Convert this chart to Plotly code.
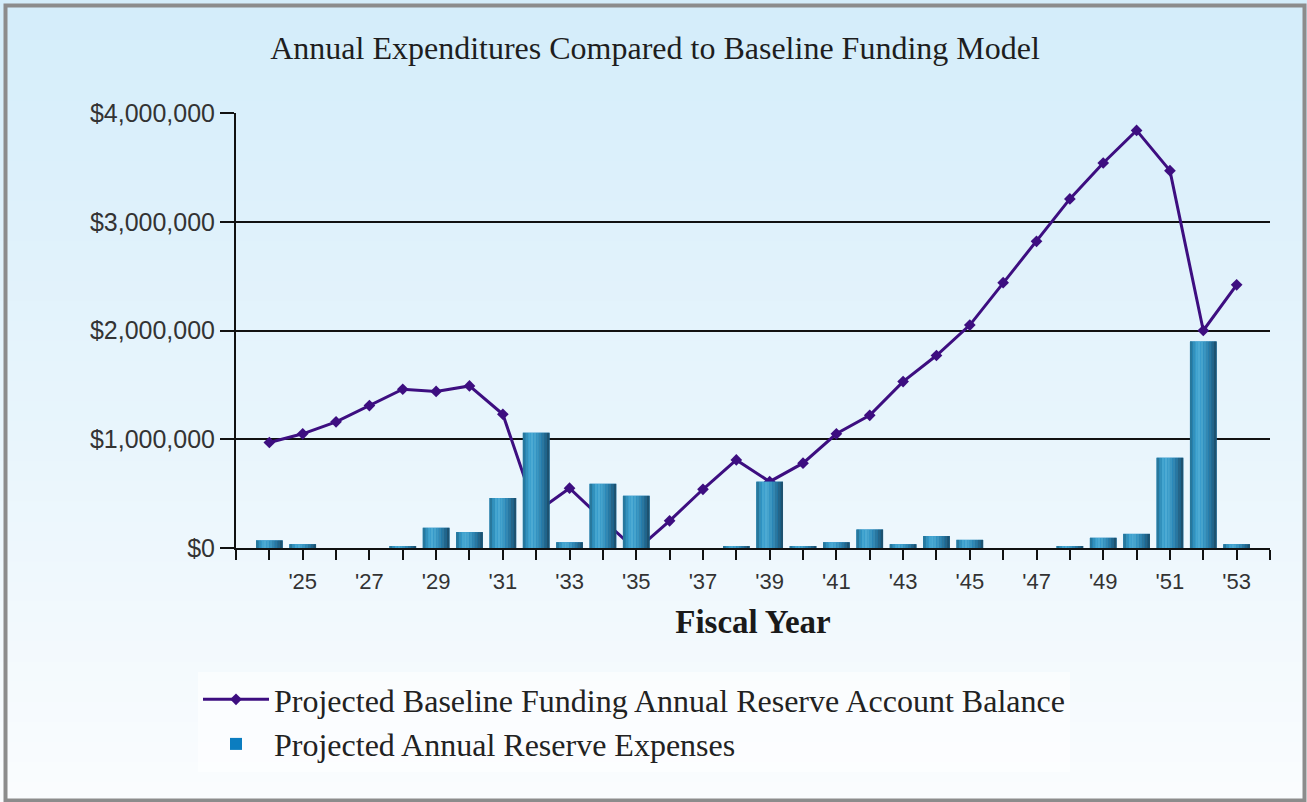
import plotly.graph_objects as go

# ---------------- data ----------------
years = [2024, 2025, 2026, 2027, 2028, 2029, 2030, 2031, 2032, 2033,
         2034, 2035, 2036, 2037, 2038, 2039, 2040, 2041, 2042, 2043,
         2044, 2045, 2046, 2047, 2048, 2049, 2050, 2051, 2052, 2053]

balance = [970000, 1050000, 1160000, 1310000, 1460000, 1440000, 1490000, 1230000, 330000, 550000,
           260000, -20000, 250000, 540000, 810000, 610000, 780000, 1050000, 1220000, 1530000,
           1770000, 2050000, 2440000, 2820000, 3210000, 3540000, 3840000, 3470000, 2000000, 2420000]

expenses = [70000, 35000, 0, 0, 15000, 186000, 146000, 460000, 1060000, 53000,
            590000, 480000, 0, 0, 14000, 610000, 14000, 53000, 170000, 35000,
            110000, 75000, 0, 0, 14000, 94000, 130000, 830000, 1900000, 35000]

tick_years = [2023, 2024, 2025, 2026, 2027, 2028, 2029, 2030, 2031, 2032, 2033, 2034, 2035,
              2036, 2037, 2038, 2039, 2040, 2041, 2042, 2043, 2044, 2045, 2046, 2047,
              2048, 2049, 2050, 2051, 2052, 2053, 2054]
tick_text = ["", "", "'25", "", "'27", "", "'29", "", "'31", "", "'33", "", "'35",
             "", "'37", "", "'39", "", "'41", "", "'43", "", "'45", "", "'47",
             "", "'49", "", "'51", "", "'53", ""]

title_text = "Annual Expenditures Compared to Baseline Funding Model"
line_name = "Projected Baseline Funding Annual Reserve Account Balance"
bar_name = "Projected Annual Reserve Expenses"

# ---------------- layout geometry ----------------
W, H = 1307, 802
L, R, T, B = 236, 37, 113, 254
PW, PH = W - L - R, H - T - B


def px_x(px):
    return (px - L) / PW


def px_y(py):
    return (H - B - py) / PH


fig = go.Figure()

# line (main axes, drawn beneath the bars)
fig.add_trace(go.Scatter(
    x=years, y=balance, name=line_name, mode="lines+markers",
    line=dict(color="#3d0e80", width=3),
    marker=dict(symbol="diamond", size=9, color="#3d0e80"),
    cliponaxis=False, xaxis="x", yaxis="y",
))

# bars (overlay axes so they sit on top of the line)
fig.add_trace(go.Bar(
    x=years, y=expenses, name=bar_name, width=0.8,
    marker=dict(color="#0b7dc0", line=dict(width=0)),
    xaxis="x", yaxis="y2",
))

strip_colors = ['#28789c', '#3491bb', '#44a5cf', '#4caad3', '#46a3cc',
                '#3c96c0', '#3387b1', '#2b779f', '#246589', '#1d5270']
n = len(strip_colors)
sw = 0.8 / n
for i, c in enumerate(strip_colors):
    fig.add_trace(go.Bar(
        x=years, y=expenses, width=sw, offset=-0.4 + i * sw,
        marker=dict(color=c, line=dict(width=0)),
        showlegend=False, hoverinfo="skip",
        xaxis="x", yaxis="y2",
    ))

# background gradient bands + frame
shapes = []
nb = 40
top = (212, 237, 250)
bot = (250, 252, 254)
for k in range(nb):
    t = k / (nb - 1)
    col = tuple(int(round(top[j] + (bot[j] - top[j]) * t)) for j in range(3))
    y0 = k * H / nb
    y1 = (k + 1) * H / nb + 1
    shapes.append(dict(type="rect", xref="paper", yref="paper", layer="below",
                       x0=px_x(0), x1=px_x(W), y0=px_y(y1), y1=px_y(y0),
                       fillcolor="rgb(%d,%d,%d)" % col, line=dict(width=0)))
# frame
shapes.append(dict(type="rect", xref="paper", yref="paper", layer="above",
                   x0=px_x(5.5), x1=px_x(1304.5), y0=px_y(800.5), y1=px_y(5.5),
                   fillcolor="rgba(0,0,0,0)", line=dict(color="#8c8c8c", width=4)))

fig.update_layout(
    width=W, height=H,
    margin=dict(l=L, r=R, t=T, b=B, autoexpand=False),
    paper_bgcolor="#f4f9fc",
    plot_bgcolor="white",
    barmode="overlay",
    shapes=shapes,
    title=dict(text=title_text, x=655 / W, xanchor="center", xref="container",
               y=1 - 48 / H, yref="container", yanchor="middle",
               font=dict(family="Liberation Serif", size=32, color="#1e1e1e")),
    xaxis=dict(
        range=[2023, 2054], tickmode="array", tickvals=tick_years, ticktext=tick_text,
        ticks="outside", ticklen=10, tickwidth=1.5, tickcolor="#111111",
        ticklabelstandoff=3,
        showline=True, linecolor="#111111", linewidth=2, showgrid=False, zeroline=False,
        tickfont=dict(family="Liberation Sans", size=22, color="#333333"),
        title=dict(text="<b>Fiscal Year</b>", standoff=16,
                   font=dict(family="Liberation Serif", size=33, color="#1a1a1a")),
    ),
    yaxis=dict(
        range=[0, 4000000], tickmode="linear", tick0=0, dtick=1000000,
        tickprefix="$", tickformat=",d",
        ticks="outside", ticklen=14, tickwidth=1.5, tickcolor="#111111",
        showline=True, linecolor="#111111", linewidth=2,
        showgrid=True, gridcolor="#111111", gridwidth=2, zeroline=False,
        tickfont=dict(family="Liberation Sans", size=25, color="#333333"),
    ),
    yaxis2=dict(range=[0, 4000000], overlaying="y", visible=False),
    legend=dict(
        x=px_x(198), xanchor="left", y=px_y(672), yanchor="top",
        bgcolor="rgba(255,255,255,0.55)", borderwidth=0,
        font=dict(family="Liberation Serif", size=32, color="#222222"),
        itemwidth=66, tracegroupgap=0,
    ),
    showlegend=True,
)

fig.write_html("out.html")
